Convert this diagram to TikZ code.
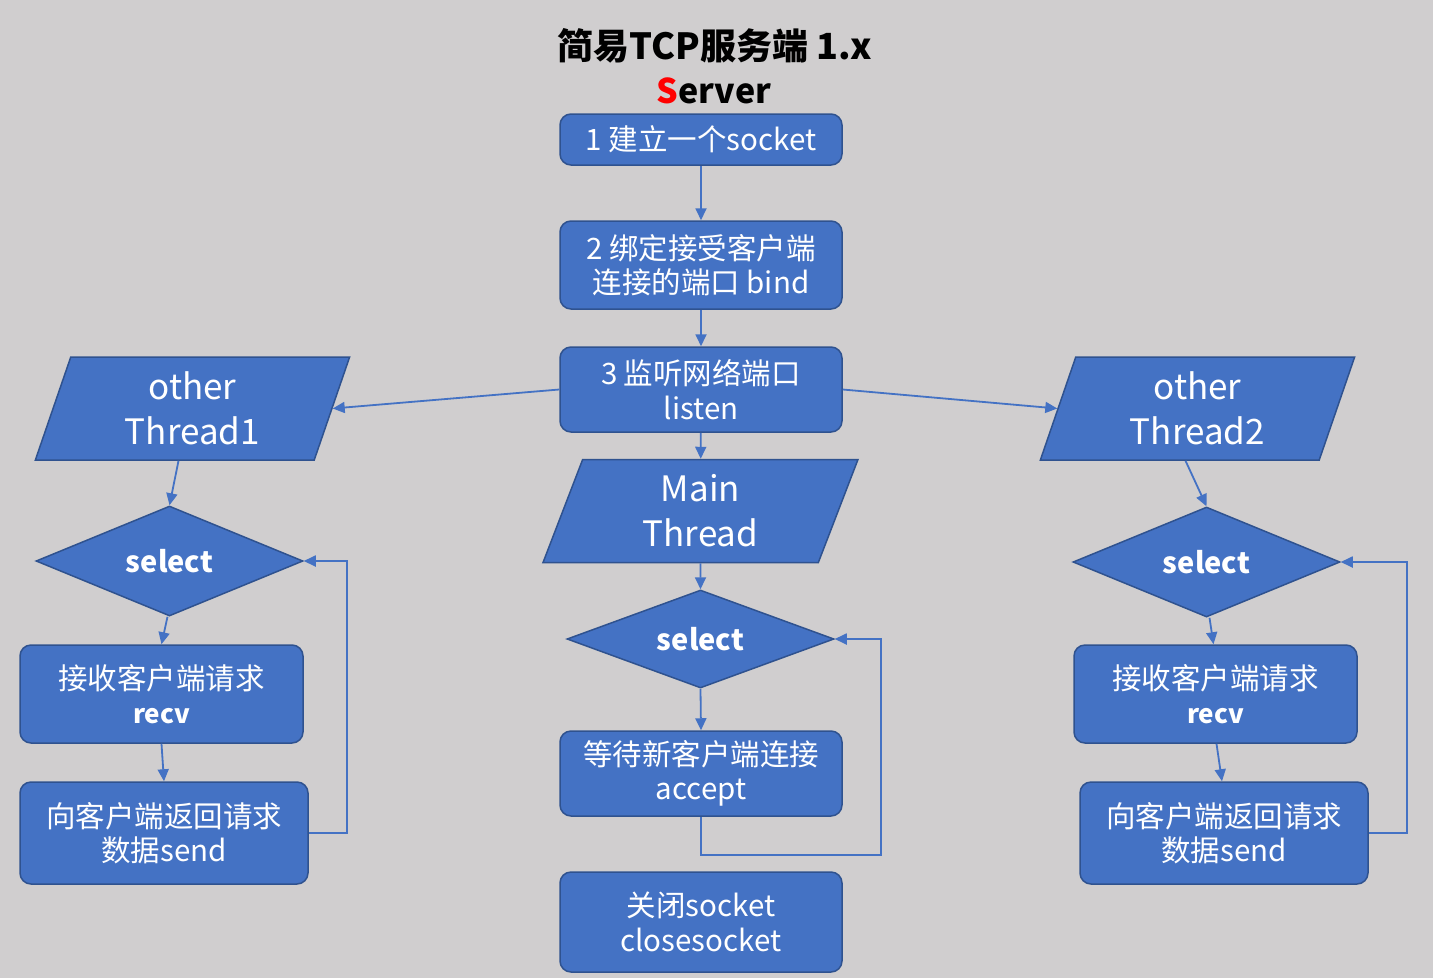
\documentclass[tikz,border=0pt]{standalone}
\usepackage{fontspec}
\setmainfont{Noto Sans CJK SC}
\usetikzlibrary{shapes.geometric,arrows.meta}
\definecolor{boxc}{HTML}{4472C4}
\definecolor{bordc}{HTML}{2F528F}
\definecolor{linec}{HTML}{4472C4}
\definecolor{bgc}{HTML}{D0CECF}
\begin{document}
\begin{tikzpicture}[x=1pt,y=-1pt,
  box/.style={draw=bordc, fill=boxc, line width=1.5pt, rounded corners=11pt, text=white, align=center,
    inner sep=0pt, font=\fontsize{29.5}{34.5}\selectfont},
  para/.style={trapezium, trapezium left angle=75, trapezium right angle=105, trapezium stretches=true,
    draw=bordc, fill=boxc, line width=1.5pt, minimum width=315pt, minimum height=103pt,
    text=white, align=center, inner sep=0pt, font=\fontsize{35}{45}\selectfont},
  dia/.style={diamond, draw=bordc, fill=boxc, line width=1.5pt, minimum width=267pt, minimum height=110pt,
    text=white, inner sep=0pt, aspect=2.4, font=\bfseries\fontsize{29}{34}\selectfont},
  arr/.style={draw=linec, line width=1.8pt, -{Triangle[length=12pt,width=11pt]}},
  ttl/.style={font=\bfseries\fontsize{36}{40}\selectfont, inner sep=0pt}
]
\fill[bgc] (0,0) rectangle (1433,978);
\useasboundingbox (0,0) rectangle (1433,978);

\node[ttl] (title) at (715,46) {简易TCP服务端 1.x};
\node[ttl, font=\bfseries\fontsize{34}{38}\selectfont] (srv) at (714,91) {\textcolor{red}{S}erver};

\node[box, minimum width=282pt, minimum height=51pt] (b1) at (701,139.5) {1 建立一个socket};
\node[box, minimum width=282pt, minimum height=88pt] (b2) at (701,265) {2 绑定接受客户端\\连接的端口 bind};
\node[box, minimum width=282pt, minimum height=85pt] (b3) at (701,389.5) {3 监听网络端口\\listen};

\node[para] (m) at (700.5,511) {Main\\Thread};
\node[para] (t1) at (192.5,408.5) {other\\Thread1};
\node[para] (t2) at (1197.5,408.5) {other\\Thread2};

\node[dia] (d1) at (169.5,561) {select};
\node[dia, minimum height=98pt] (d3) at (700.5,639) {select};
\node[dia] (d2) at (1206.5,562) {select};

\node[box, minimum width=283pt, minimum height=98pt] (r1) at (161.5,694) {接收客户端请求\\{\bfseries\fontsize{26}{30}\selectfont recv}};
\node[box, minimum width=288pt, minimum height=102pt] (s1) at (164,833) {向客户端返回请求\\数据send};
\node[box, minimum width=283pt, minimum height=98pt] (r2) at (1215.5,694) {接收客户端请求\\{\bfseries\fontsize{26}{30}\selectfont recv}};
\node[box, minimum width=288pt, minimum height=102pt] (s2) at (1224,833) {向客户端返回请求\\数据send};

\node[box, minimum width=282pt, minimum height=85pt] (a) at (701,773.5) {等待新客户端连接\\accept};
\node[box, minimum width=282pt, minimum height=100pt] (c) at (701,922) {关闭socket\\closesocket};

\draw[arr] (b1) -- (b2);
\draw[arr] (b2) -- (b3);
\draw[arr] (b3.west) -- (t1.east);
\draw[arr] (b3.east) -- (t2.west);
\draw[arr] (b3) -- (m);
\draw[arr] (m.south) -- (d3.north);
\draw[arr] (d3.south) -- (a.north);
\draw[arr] (a.south) -- ++(0,38) -| ([xshift=46pt]d3.east) -- (d3.east);

\draw[arr] ([xshift=-14pt]t1.south) -- (d1.north);
\draw[arr] ([xshift=-2pt]d1.south) -- (r1.north);
\draw[arr] (r1.south) -- (s1.north);
\draw[arr] (s1.east) -- ++(38,0) |- (d1.east);

\draw[arr] ([xshift=-12pt]t2.south) -- (d2.north);
\draw[arr] ([xshift=3pt]d2.south) -- ([xshift=-2pt]r2.north);
\draw[arr] ([xshift=1pt]r2.south) -- ([xshift=-2pt]s2.north);
\draw[arr] (s2.east) -- ++(38,0) |- (d2.east);
\end{tikzpicture}
\end{document}
